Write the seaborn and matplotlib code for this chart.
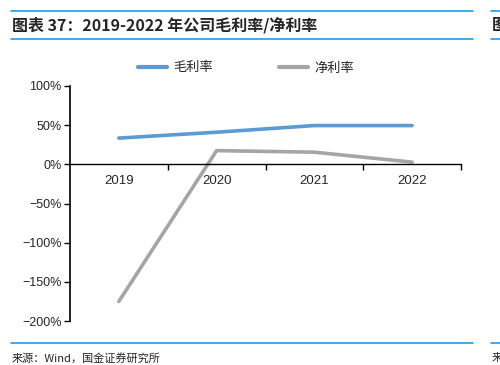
import matplotlib
matplotlib.use("Agg")
import matplotlib.pyplot as plt
import matplotlib.ticker as mticker
from matplotlib.lines import Line2D
import seaborn as sns
import pandas as pd

# 数据
years = ["2019", "2020", "2021", "2022"]
gross_margin = [33.5, 41.0, 49.5, 49.5]
net_margin = [-175.0, 17.5, 15.5, 2.8]
series_names = ["毛利率", "净利率"]
colors = ["#5B9BD5", "#A5A5A5"]

df = pd.DataFrame({
    "year": years * 2,
    "value": gross_margin + net_margin,
    "series": [series_names[0]] * 4 + [series_names[1]] * 4,
})

sns.set_style("white")
plt.rcParams['font.family'] = ['Liberation Sans', 'Noto Sans CJK SC', 'DejaVu Sans']
cjk = ['Noto Sans CJK SC', 'DejaVu Sans']

fig = plt.figure(figsize=(5, 3.65), dpi=100)
ax = fig.add_axes([70 / 500, 1 - 321 / 365, 391 / 500, 235 / 365])

sns.lineplot(data=df, x="year", y="value", hue="series", palette=colors,
             linewidth=2.6, ax=ax, legend=False, sort=False)
for ln in ax.get_lines():
    ln.set_solid_capstyle("round")
    ln.set_solid_joinstyle("round")

ax.set_xlim(-0.5, 3.5)
ax.set_ylim(-200, 100)
ax.set_xlabel("")
ax.set_ylabel("")

# 坐标轴
for s in ["top", "right"]:
    ax.spines[s].set_visible(False)
ax.spines["bottom"].set_position(("data", 0))
ax.spines["bottom"].set_color("black")
ax.spines["bottom"].set_linewidth(1.0)
ax.spines["left"].set_color("black")
ax.spines["left"].set_linewidth(1.2)

ax.yaxis.set_major_locator(mticker.MultipleLocator(50))
ax.yaxis.set_major_formatter(mticker.FuncFormatter(
    lambda v, p: f"{v:.0f}%".replace("-", "\u2212")))
ax.tick_params(axis="y", direction="out", length=4, width=1, color="black",
               labelsize=9, pad=2, left=True)

# x 轴：刻度线在分界处，标签在类别中心
ax.xaxis.set_major_locator(mticker.FixedLocator([0.5, 1.5, 2.5, 3.5]))
ax.xaxis.set_major_formatter(mticker.NullFormatter())
ax.xaxis.set_minor_locator(mticker.FixedLocator([0, 1, 2, 3]))
ax.xaxis.set_minor_formatter(mticker.FixedFormatter(years))
ax.tick_params(axis="x", which="major", direction="out", length=4, width=1,
               color="black", bottom=True)
ax.tick_params(axis="x", which="minor", length=0, labelsize=9.5, pad=7.5)

# 图例
handles = [Line2D([], [], color=c, linewidth=3, solid_capstyle="round") for c in colors]
fig.legend(handles, series_names, loc="center", ncol=2, frameon=False,
           bbox_to_anchor=(246 / 500, 1 - 68 / 365), handlelength=2.2,
           handletextpad=0.45, columnspacing=5.0, prop={"family": cjk, "size": 9.5})

# 标题与来源
line_color = "#1AA1E6"
for yy in [11, 39, 343]:
    fig.add_artist(Line2D([11 / 500, 473 / 500], [1 - yy / 365] * 2,
                          color=line_color, linewidth=1.2))
    fig.add_artist(Line2D([491 / 500, 1.0], [1 - yy / 365] * 2,
                          color=line_color, linewidth=1.2))

fig.text(12 / 500, 1 - 25 / 365, "图表 37：2019-2022 年公司毛利率/净利率",
         family=cjk, fontsize=11.5, fontweight="bold", fontstyle="italic",
         va="center", ha="left")
fig.text(492 / 500, 1 - 25 / 365, "图", family=cjk, fontsize=11.5,
         fontweight="bold", va="center", ha="left")
fig.text(12 / 500, 1 - 358 / 365, "来源：Wind，国金证券研究所",
         family=cjk, fontsize=8, va="center", ha="left")
fig.text(492 / 500, 1 - 358 / 365, "来", family=cjk, fontsize=8,
         va="center", ha="left")

fig.savefig("out.png", dpi=100)
